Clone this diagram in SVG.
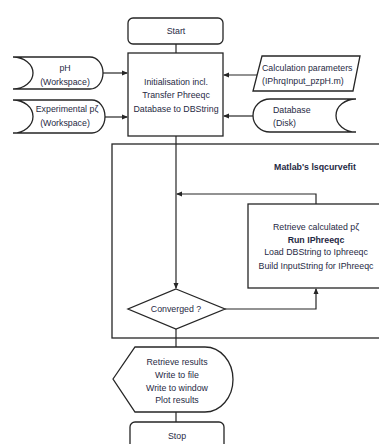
<svg xmlns="http://www.w3.org/2000/svg" width="379" height="444" viewBox="0 0 379 444">
<style>
.s{fill:#fff;stroke:#262626;stroke-width:1.3}
.c{fill:none;stroke:#262626;stroke-width:1.2}
text{font-family:"Liberation Sans",Arial,sans-serif;font-size:8.8px;fill:#1f2a44}
.m{text-anchor:middle}
.b{font-weight:bold}
</style>
<defs>
<marker id="ah" markerWidth="6" markerHeight="6" refX="5" refY="3" orient="auto" markerUnits="userSpaceOnUse">
<path d="M0,0.5 L6,3 L0,5.5 Z" fill="#262626"/>
</marker>
</defs>
<rect width="379" height="444" fill="#fff"/>
<g id="loop">
<rect class="s" x="112" y="144" width="280" height="194"/>
<text class="m b" x="315" y="170">Matlab's lsqcurvefit</text>
</g>
<g id="start">
<rect class="s" x="128" y="18" width="95" height="26" rx="5"/>
<text class="m" x="176" y="34">Start</text>
</g>
<g id="init">
<rect class="s" x="128" y="53" width="95" height="83"/>
<text class="m" x="176" y="85">Initialisation incl.</text>
<text class="m" x="176" y="98">Transfer Phreeqc</text>
<text class="m" x="176" y="112">Database to DBString</text>
</g>
<g id="ph">
<path class="s" d="M13,57 L90,57 A13,16 0 0 1 90,89 L13,89 A20,16 0 0 0 13,57 Z"/>
<text class="m" x="65" y="71">pH</text>
<text class="m" x="65" y="85">(Workspace)</text>
</g>
<g id="exp">
<path class="s" d="M13,100 L92,100 A13,16.5 0 0 1 92,133 L13,133 A20,16.5 0 0 0 13,100 Z"/>
<text class="m" x="67" y="112">Experimental pζ</text>
<text class="m" x="65" y="126">(Workspace)</text>
</g>
<g id="calc">
<path class="s" d="M262,56 L360,56 L353,91 L253,91 Z"/>
<text x="262" y="71">Calculation parameters</text>
<text x="262" y="84">(IPhrqInput_pzpH.m)</text>
</g>
<g id="db">
<path class="s" d="M270,99 L356,99 A20,16.5 0 0 0 356,132 L270,132 A17,16.5 0 0 1 270,99 Z"/>
<text x="273" y="113">Database</text>
<text x="273" y="126">(Disk)</text>
</g>
<g id="iphreeqc">
<rect class="s" x="248" y="204" width="150" height="84"/>
<text class="m" x="316" y="230">Retrieve calculated pζ</text>
<text class="m b" x="316" y="243">Run IPhreeqc</text>
<text class="m" x="316" y="255">Load DBString to Iphreeqc</text>
<text class="m" x="316" y="269">Build InputString for IPhreeqc</text>
</g>
<g id="converged">
<path class="s" d="M176,289 L225,309 L176,329 L128,309 Z"/>
<text class="m" x="176" y="312">Converged ?</text>
</g>
<g id="output">
<path class="s" d="M113,379 L135,347 L205,347 A28,32.5 0 0 1 205,412 L135,412 Z"/>
<text class="m" x="177" y="365">Retrieve results</text>
<text class="m" x="177" y="378">Write to file</text>
<text class="m" x="177" y="391">Write to  window</text>
<text class="m" x="177" y="403">Plot results</text>
</g>
<g id="stop">
<rect class="s" x="130" y="422" width="94" height="30" rx="5"/>
<text class="m" x="177" y="439">Stop</text>
</g>
<g id="connectors">
<path class="c" d="M176,44 L176,53"/>
<path class="c" d="M103,73 L127,73" marker-end="url(#ah)"/>
<path class="c" d="M105,117 L127,117" marker-end="url(#ah)"/>
<path class="c" d="M257,75 L224,75" marker-end="url(#ah)"/>
<path class="c" d="M253,116 L224,116" marker-end="url(#ah)"/>
<path class="c" d="M176,136 L176,288" marker-end="url(#ah)"/>
<path class="c" d="M316,204 L316,194 L177,194" marker-end="url(#ah)"/>
<path class="c" d="M225,309 L316,309 L316,289" marker-end="url(#ah)"/>
<path class="c" d="M176,329 L176,347"/>
<path class="c" d="M176,412 L176,422"/>
</g>
</svg>
